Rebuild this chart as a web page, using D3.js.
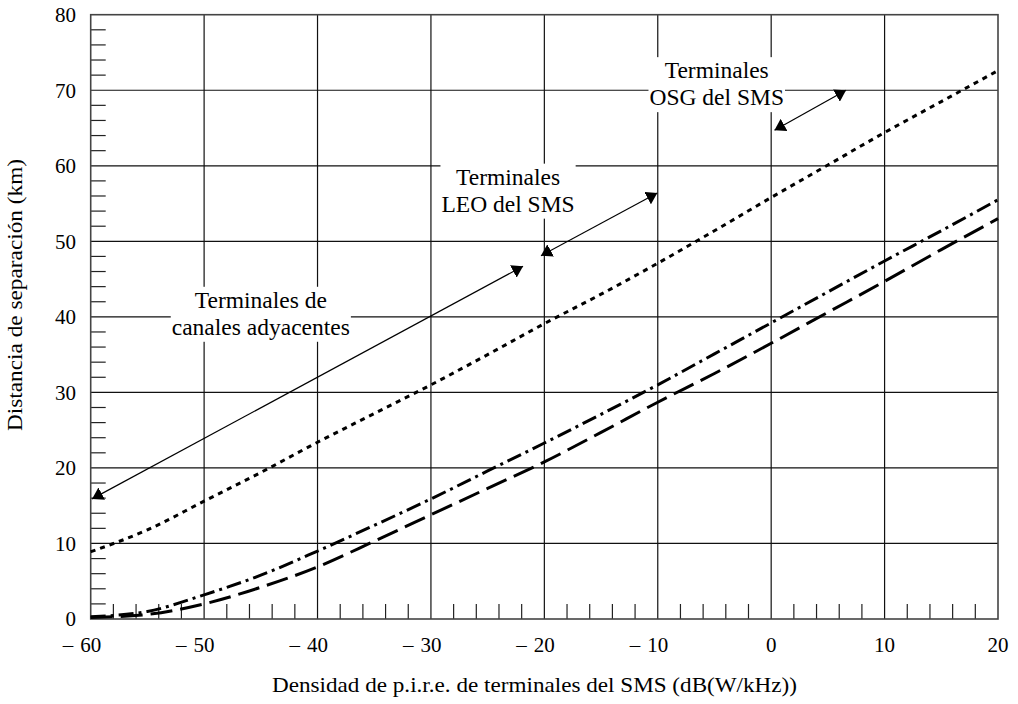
<!DOCTYPE html>
<html><head><meta charset="utf-8">
<script src="https://cdn.jsdelivr.net/npm/d3@7"></script>
<style>
html,body{margin:0;padding:0;background:#fff;}
svg{display:block;font-family:"Liberation Serif","Times New Roman",serif;}
</style></head>
<body><svg id="c" width="1018" height="704"></svg>
<script>
const xValues = [-60,-55,-50,-45,-40,-35,-30,-25,-20,-15,-10,-5,0,5,10,15,20];
const osgDotted = [8.9,11.8,15.6,19.4,23.4,27.2,31.0,35.0,39.1,43.0,47.1,51.4,55.8,60.1,64.4,68.5,72.6];
const leoDashDot = [0.3,1.0,3.2,5.8,9.0,12.4,15.9,19.6,23.3,27.1,31.0,35.1,39.2,43.3,47.4,51.4,55.5];
const adjDashed = [0.2,0.6,2.0,4.2,6.9,10.3,13.8,17.3,20.8,24.7,28.7,32.5,36.5,40.6,44.7,48.9,53.0];
const xTicks = [-60,-50,-40,-30,-20,-10,0,10,20];
const yTicks = [0,10,20,30,40,50,60,70,80];
const xTitle = "Densidad de p.i.r.e. de terminales del SMS (dB(W/kHz))";
const yTitle = "Distancia de separación (km)";
const labels = [
  {lines:["Terminales de","canales adyacentes"], x:-45.0, y:41.2},
  {lines:["Terminales","LEO del SMS"], x:-23.2, y:57.5},
  {lines:["Terminales","OSG del SMS"], x:-4.8, y:71.6}
];
const arrows = [
  {x1:-59.88,y1:15.9,x2:-21.88,y2:46.7},
  {x1:-20.3,y1:48.1,x2:-10.04,y2:56.4},
  {x1:0.29,y1:64.7,x2:6.6,y2:70.0}
];

const svg = d3.select("#c");
const L=90.7,R=998,T=14.7,B=619;
const x = d3.scaleLinear().domain([-60,20]).range([L,R]);
const y = d3.scaleLinear().domain([0,80]).range([B,T]);

// grid
const g = svg.append("g");
g.selectAll(".vg").data(xTicks.slice(1,-1)).join("line")
 .attr("x1",d=>x(d)).attr("x2",d=>x(d)).attr("y1",T).attr("y2",B)
 .attr("stroke","#111").attr("stroke-width",1.2);
g.selectAll(".hg").data(yTicks.slice(1,-1)).join("line")
 .attr("y1",d=>y(d)).attr("y2",d=>y(d)).attr("x1",L).attr("x2",R)
 .attr("stroke","#111").attr("stroke-width",1.2);

// minor ticks
const minorX = d3.range(-58,20,2).filter(v=>v%10!==0);
const minorY = d3.range(2,80,2).filter(v=>v%10!==0);
g.selectAll(".mx").data(minorX).join("line")
 .attr("x1",d=>x(d)).attr("x2",d=>x(d)).attr("y1",B).attr("y2",B-15)
 .attr("stroke","#222").attr("stroke-width",1.2);
g.selectAll(".my").data(minorY).join("line")
 .attr("y1",d=>y(d)).attr("y2",d=>y(d)).attr("x1",L).attr("x2",L+15)
 .attr("stroke","#222").attr("stroke-width",1.2);

// frame
svg.append("rect").attr("x",L).attr("y",T).attr("width",R-L).attr("height",B-T)
 .attr("fill","none").attr("stroke","#444").attr("stroke-width",1.6);

// label backgrounds + labels
const fsLab = 23.5;
labels.forEach(lb=>{
  const cx = x(lb.x), by = y(lb.y);
  const tg = svg.append("g");
  const t = tg.append("text").attr("text-anchor","middle").attr("font-size",fsLab).attr("fill","#000");
  lb.lines.forEach((s,i)=>t.append("tspan").attr("x",cx).attr("y",by+i*27).text(s));
  const bb = t.node().getBBox();
  tg.insert("rect","text").attr("x",bb.x-1).attr("y",by-21).attr("width",bb.width+2).attr("height",27+28)
   .attr("fill","#fff");
});

// curves
const line = d3.line().x((d,i)=>x(xValues[i])).y(d=>y(d)).curve(d3.curveMonotoneX);
svg.append("path").attr("d",line(osgDotted)).attr("fill","none").attr("stroke","#000")
 .attr("stroke-width",3).attr("stroke-dasharray","5,5");
svg.append("path").attr("d",line(leoDashDot)).attr("fill","none").attr("stroke","#000")
 .attr("stroke-width",3).attr("stroke-dasharray","15,5,3,5");
svg.append("path").attr("d",line(adjDashed)).attr("fill","none").attr("stroke","#000")
 .attr("stroke-width",3).attr("stroke-dasharray","22,8");

// arrows
const defs = svg.append("defs");
defs.append("marker").attr("id","ah").attr("viewBox","0 0 11 14").attr("refX",11).attr("refY",7)
 .attr("markerWidth",11).attr("markerHeight",14).attr("markerUnits","userSpaceOnUse").attr("orient","auto-start-reverse")
 .append("path").attr("d","M0,0L11,7L0,14Z").attr("fill","#000");
svg.selectAll(".arr").data(arrows).join("line")
 .attr("x1",d=>x(d.x1)).attr("y1",d=>y(d.y1)).attr("x2",d=>x(d.x2)).attr("y2",d=>y(d.y2))
 .attr("stroke","#000").attr("stroke-width",1.2)
 .attr("marker-start","url(#ah)").attr("marker-end","url(#ah)");

// tick labels
const fsTick = 21;
svg.selectAll(".yl").data(yTicks).join("text")
 .attr("x",76).attr("y",d=>y(d)).attr("dy","0.35em").attr("text-anchor","end")
 .attr("font-size",fsTick).text(d=>d);
xTicks.forEach(v=>{
  const t = svg.append("text").attr("x",x(v)).attr("y",652).attr("text-anchor","middle")
   .attr("font-size",fsTick).text(Math.abs(v));
  if(v<0){
    const w = t.node().getBBox().width;
    svg.append("text").attr("x",x(v)-w/2-7).attr("y",652).attr("text-anchor","end")
     .attr("font-size",fsTick).text("–");
  }
});

// axis titles
svg.append("text").attr("x",534.5).attr("y",692).attr("text-anchor","middle").attr("font-size",21)
 .attr("textLength",525).attr("lengthAdjust","spacingAndGlyphs").text(xTitle);
svg.append("text").attr("transform","translate(22,295) rotate(-90)").attr("text-anchor","middle")
 .attr("font-size",20.5).attr("textLength",272).attr("lengthAdjust","spacingAndGlyphs").text(yTitle);
</script></body></html>
